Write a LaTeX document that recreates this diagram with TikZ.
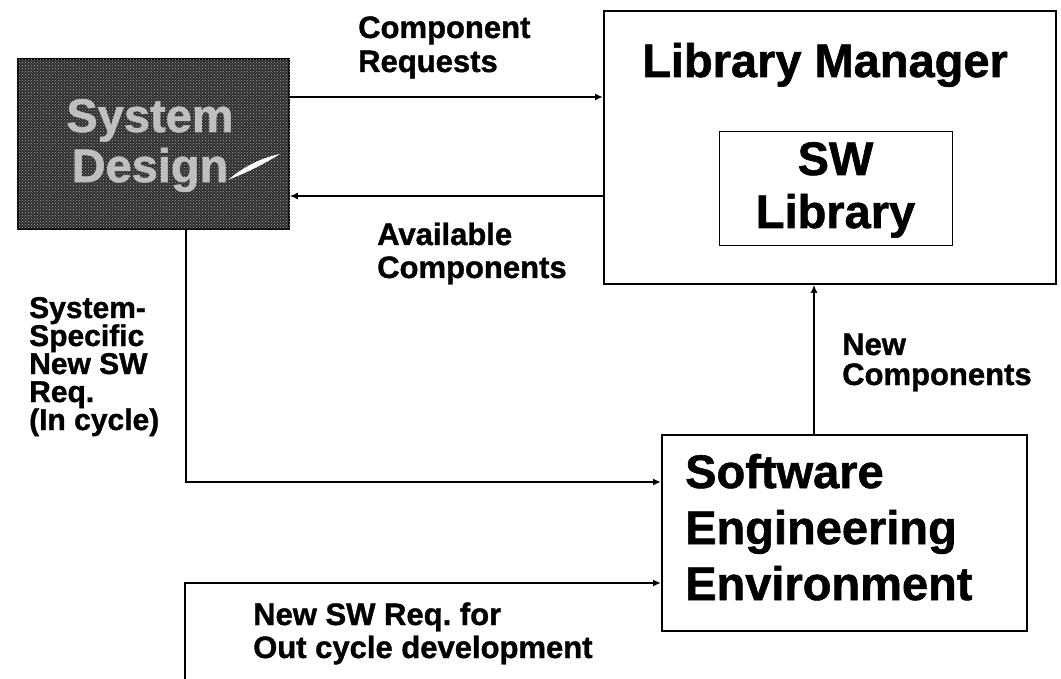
\documentclass[tikz,border=0pt]{standalone}
\usepackage{fontspec}
\setmainfont{Liberation Sans}[BoldFeatures={FakeBold=1.2}]
\frenchspacing
\usetikzlibrary{arrows.meta,patterns}

\tikzset{
  box/.style={draw=black, line width=1.8pt, fill=white, inner sep=0pt, anchor=north west},
  link/.style={draw=black, line width=1.8pt},
  arr/.style={link, -{Latex[length=8pt,width=7pt]}},
  big/.style={font=\fontsize{47}{55}\selectfont\bfseries, inner sep=0pt},
  small/.style={font=\fontsize{31}{31}\selectfont\bfseries, inner sep=0pt, align=left},
  lefttag/.style={font=\fontsize{30}{28}\selectfont\bfseries, inner sep=0pt, align=left},
}

\begin{document}
\begin{tikzpicture}[x=1pt,y=-1pt]
  \useasboundingbox (0,0) rectangle (1061,679);
  \fill[white] (0,0) rectangle (1061,679);

  % dark halftone block
  \node[box, draw=black, fill=black!82, minimum width=271pt, minimum height=170pt] (sysdesign) at (17,58) {};
  \fill[pattern=crosshatch dots, pattern color=gray!70] (sysdesign.north west) rectangle (sysdesign.south east);
  \fill[white] (228,180) .. controls (242,168) and (260,158) .. (280,154)
               .. controls (264,164) and (248,172) .. (228,180) -- cycle;
  \node[big, text=gray!50, anchor=base] (sdtop) at (150,132) {System};
  \node[big, text=gray!50, anchor=base] (sdbot) at (150,182) {Design};

  % library manager with the library inside
  \node[box, minimum width=452pt, minimum height=273pt] (libmgr) at (603,10) {};
  \node[big, anchor=base west] (lmtext) at (642,77) {Library Manager};
  \node[box, line width=1.4pt, minimum width=233pt, minimum height=114pt] (swlib) at (719,131) {};
  \node[big, anchor=base] (swtop) at (835.5,175) {SW};
  \node[big, anchor=base] (swbot) at (835.5,228) {Library};

  % software engineering environment
  \node[box, minimum width=365pt, minimum height=196pt] (see) at (661,434) {};
  \node[big, anchor=base west] (see1) at (685,488) {Software};
  \node[big, anchor=base west] (see2) at (685,544) {Engineering};
  \node[big, anchor=base west] (see3) at (685,600) {Environment};

  % route helpers
  \coordinate (reqY) at (0,97);
  \coordinate (avY) at (0,196);
  \coordinate (inX) at (186,0);
  \coordinate (inY) at (0,482);
  \coordinate (ncX) at (814,0);
  \coordinate (outStart) at (185,679);
  \coordinate (outY) at (0,583);

  % connectors
  \draw[arr] (sysdesign.east |- reqY) -- (libmgr.west |- reqY);
  \draw[arr] (libmgr.west |- avY) -- (sysdesign.east |- avY);
  \draw[arr] (sysdesign.south -| inX) |- (see.west |- inY);
  \draw[arr] (see.north -| ncX) -- (libmgr.south -| ncX);
  \draw[arr] (outStart) |- (see.west |- outY);

  % connector labels
  \node[small, anchor=base west] (lreq1) at (358,38) {Component};
  \node[small, anchor=base west] (lreq2) at (358,72) {Requests};
  \node[small, anchor=base west] (lav1) at (377,245) {Available};
  \node[small, anchor=base west] (lav2) at (377,278) {Components};
  \node[small, anchor=base west] (lnc1) at (842,355) {New};
  \node[small, anchor=base west] (lnc2) at (842,385) {Components};
  \node[small, anchor=base west] (lout1) at (253,625) {New SW Req. for};
  \node[small, anchor=base west] (lout2) at (253,658) {Out cycle development};
  \node[lefttag, anchor=base west] (lin1) at (29,318) {System-};
  \node[lefttag, anchor=base west] (lin2) at (29,346) {Specific};
  \node[lefttag, anchor=base west] (lin3) at (29,374) {New SW};
  \node[lefttag, anchor=base west] (lin4) at (29,402) {Req.};
  \node[lefttag, anchor=base west] (lin5) at (29,430) {(In cycle)};
\end{tikzpicture}
\end{document}
